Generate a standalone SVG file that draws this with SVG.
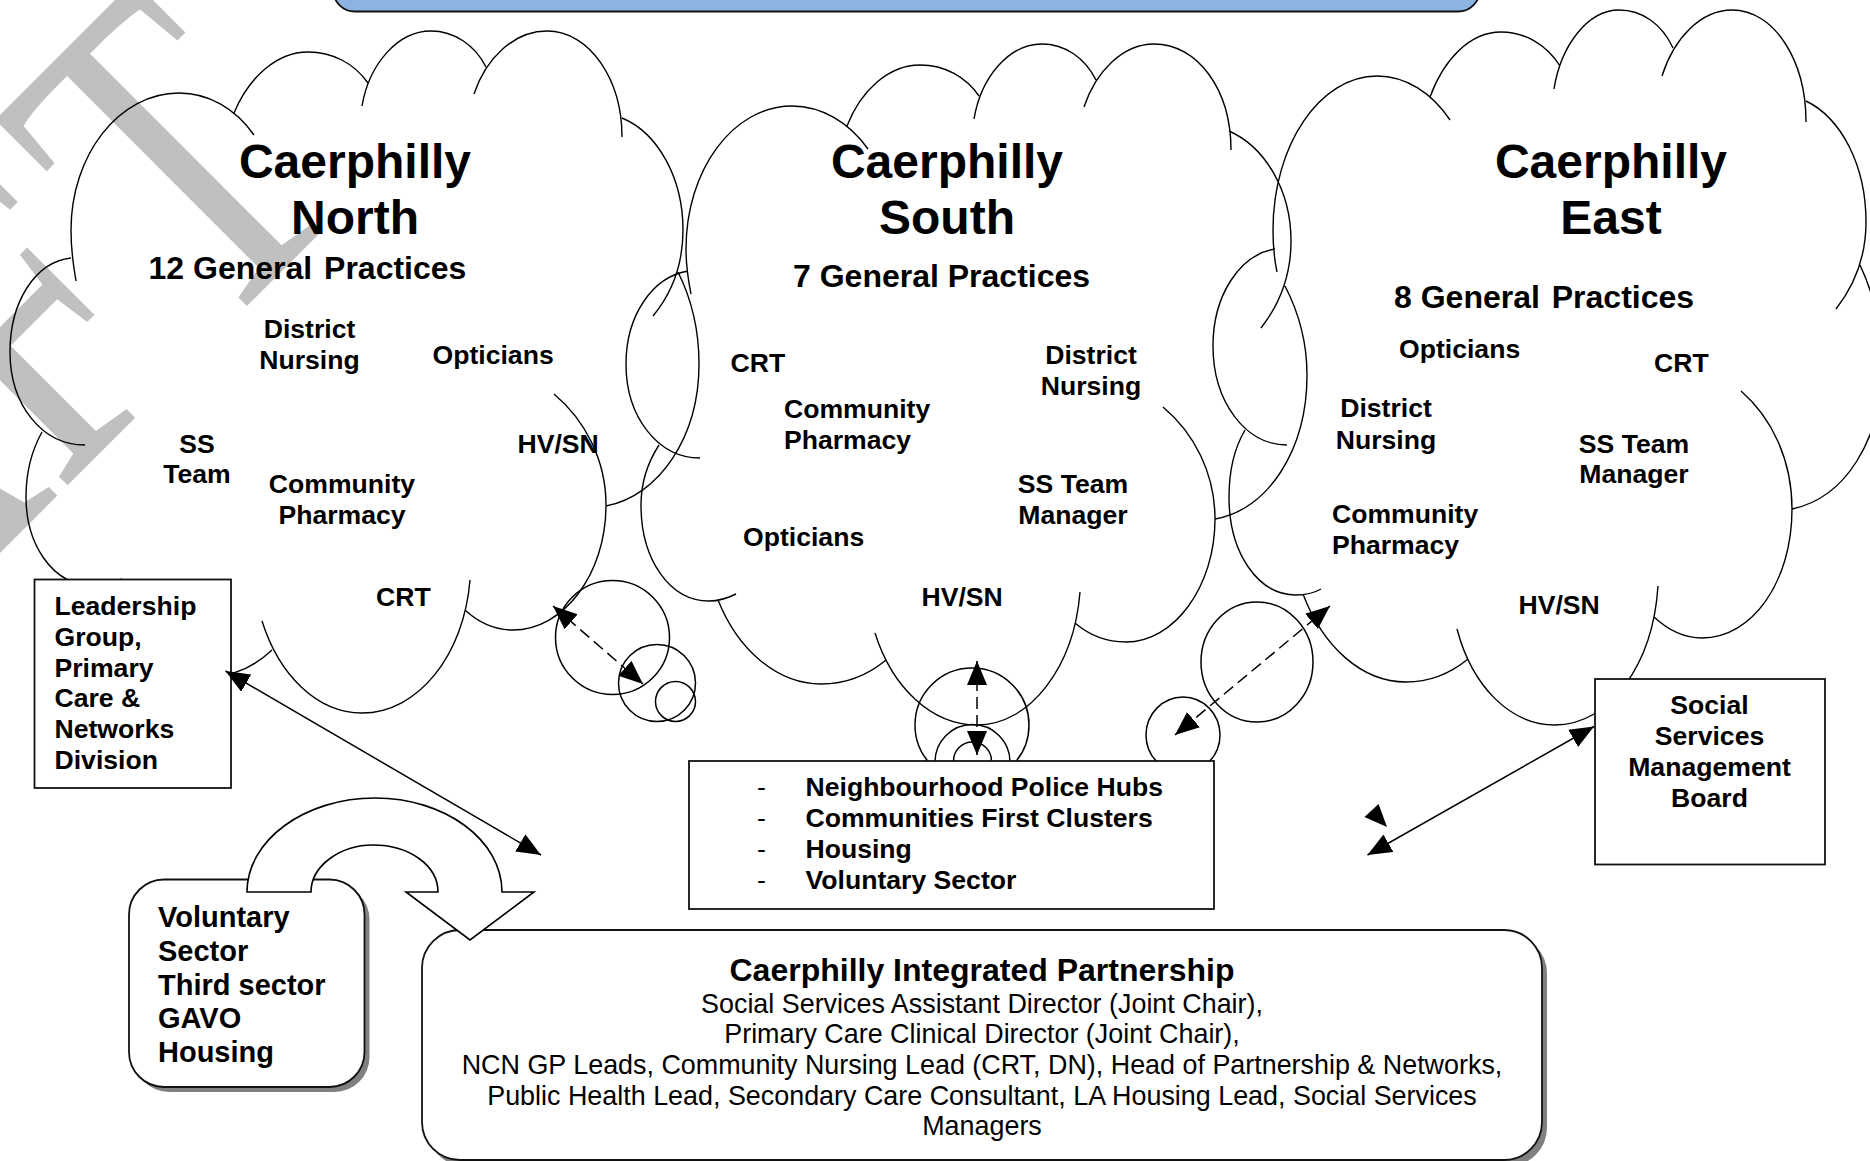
<svg xmlns="http://www.w3.org/2000/svg" width="1870" height="1161" viewBox="0 0 1870 1161">
<style>
text{font-family:"Liberation Sans",Arial,sans-serif;fill:#000}
.h{font-size:48px;font-weight:bold;text-anchor:middle}
.s{font-size:32px;font-weight:bold}
.l{font-size:26.6px;font-weight:bold}
.n{font-weight:normal}
.m{text-anchor:middle}
.v{font-size:29px;font-weight:bold}
.r{font-size:26.9px;text-anchor:middle}
.arc{fill:none;stroke:#000;stroke-width:1.4}
.c{fill:none;stroke:#000;stroke-width:1.5}
.box{fill:#fff;stroke:#111;stroke-width:1.8}
.shadow{fill:#808080;stroke:none}
.ln{stroke:#000;stroke-width:1.5;fill:none;marker-start:url(#ah);marker-end:url(#ah)}
.ds{stroke-dasharray:12 6}
</style>
<defs>
<marker id="ah" markerUnits="userSpaceOnUse" markerWidth="26" markerHeight="22" refX="24" refY="10" orient="auto-start-reverse" viewBox="0 0 26 22"><path d="M0 0L24 10L0 20Z" fill="#000"/></marker>
</defs>
<rect width="1870" height="1161" fill="#fff"/>
<text id="watermark" transform="translate(357,196) rotate(-45) scale(.72,1)" font-size="473" text-anchor="end" style="font-family:'Liberation Serif',serif;fill:#c0c0c0">DRAF<tspan dx="33">T</tspan></text>
<g id="header"><rect x="333" y="-40" width="1147" height="51.5" rx="22" fill="#8db3e2" stroke="#111" stroke-width="1.8"/></g>

<g id="cloud-north">
<path class="arc" d="M76 281C73 264 71 247 71 230C71 155 119 93 179 93C208 93 235 108 254 135M234 113C249 77 277 52 308 52C332 52 354 63 368 83M362 106C369 65 397 31 431 31C454 31 475 45 486 67M474 94C486 58 514 31 547 31C590 31 622 80 622 137M622 118C658 133 683 178 683 230C683 265 672 293 653 316M678 272C692 300 699 332 699 364C699 437 659 496 606 506M554 394C585 420 606 460 606 505C606 575 563 630 513 630C495 630 478 622 465 610M470 580C464 655 418 713 362 713C317 713 279 675 262 621M42 432C32 450 26 473 26 497C26 541 50 586 95 586C105 586 114 583 122 579M104 585C125 640 170 676 212 676C235 676 255 666 272 650M71 258C35 262 10 302 10 352C10 405 42 445 85 445"/>
<text class="h" x="355" y="178">Caerphilly</text><text class="h" x="355" y="234">North</text>
<text class="s" x="148.5" y="279">12 General <tspan dx="3">Practices</tspan></text>
<text class="l m" x="309.5" y="338">District</text><text class="l m" x="309.5" y="369">Nursing</text>
<text class="l" x="432.5" y="364">Opticians</text>
<text class="l m" x="197" y="453">SS</text><text class="l m" x="197" y="483">Team</text>
<text class="l m" x="342" y="492.5">Community</text><text class="l m" x="342" y="523.5">Pharmacy</text>
<text class="l" x="517.5" y="452.5">HV/SN</text>
<text class="l" x="376" y="606">CRT</text>
</g>

<g id="cloud-south">
<path class="arc" d="M691 294C688 279 686 264 686 249C686 170 733 106 792 106C821 106 849 122 868 149M847 126C861 90 889 65 920 65C945 65 966 77 979 96M974 119C981 77 1009 44 1042 44C1065 44 1085 58 1096 80M1084 107C1096 71 1123 44 1154 44C1198 44 1231 90 1231 150M1229 131C1265 147 1291 190 1291 241C1291 275 1279 305 1261 328M1285 286C1299 313 1307 344 1307 375C1307 450 1268 510 1215 519M1163 407C1194 433 1215 473 1215 519C1215 587 1174 642 1126 642C1107 642 1089 635 1075 623M1080 592C1074 667 1030 725 977 725C931 725 892 687 875 633M659 445C648 462 641 483 641 505C641 560 670 601 709 601C719 601 728 598 736 594M718 600C738 650 777 684 821 684C846 684 868 675 886 660M688 271C652 277 626 316 626 364C626 417 658 458 700 458"/>
<text class="h" x="947" y="178">Caerphilly</text><text class="h" x="947" y="234">South</text>
<text class="s" x="793" y="286.5">7 General Practices</text>
<text class="l" x="730.5" y="372">CRT</text>
<text class="l m" x="1091" y="363.5">District</text><text class="l m" x="1091" y="394.5">Nursing</text>
<text class="l" x="784" y="417.5">Community</text><text class="l" x="784" y="448.5">Pharmacy</text>
<text class="l m" x="1073" y="493">SS Team</text><text class="l m" x="1073" y="523.5">Manager</text>
<text class="l" x="743" y="546">Opticians</text>
<text class="l" x="921.5" y="606">HV/SN</text>
</g>

<g id="cloud-east">
<path class="arc" d="M1277 272C1274 258 1273 244 1273 230C1273 145 1320 76 1377 76C1406 76 1432 93 1450 120M1430 97C1444 59 1470 32 1501 32C1525 32 1547 45 1560 66M1554 89C1561 45 1588 10 1619 10C1642 10 1662 24 1673 48M1662 76C1674 38 1701 10 1732 10C1774 10 1806 60 1806 122M1806 101C1841 118 1866 165 1866 222C1866 256 1854 286 1836 309M1860 265C1874 295 1882 330 1882 365C1882 440 1845 498 1792 509M1741 391C1772 418 1792 460 1792 509C1792 582 1752 638 1702 638C1684 638 1668 630 1654 617M1658 586C1653 664 1610 725 1555 725C1510 725 1472 686 1457 629M1245 430C1235 447 1229 471 1229 497C1229 553 1258 595 1296 595C1305 595 1314 593 1321 589M1303 594C1323 647 1362 682 1406 682C1429 682 1451 673 1468 659M1275 249C1239 255 1213 296 1213 346C1213 401 1245 445 1287 445"/>
<text class="h" x="1611" y="178">Caerphilly</text><text class="h" x="1611" y="234">East</text>
<text class="s" x="1394" y="308">8 General <tspan dx="3">Practices</tspan></text>
<text class="l" x="1399" y="358">Opticians</text>
<text class="l" x="1654" y="372">CRT</text>
<text class="l m" x="1386" y="417">District</text><text class="l m" x="1386" y="448.5">Nursing</text>
<text class="l m" x="1634" y="453">SS Team</text><text class="l m" x="1634" y="483">Manager</text>
<text class="l" x="1332" y="522.5">Community</text><text class="l" x="1332" y="553.5">Pharmacy</text>
<text class="l" x="1518.5" y="614">HV/SN</text>
</g>

<g id="thought-bubbles">
<circle class="c" cx="612.5" cy="637.5" r="57"/><circle class="c" cx="657" cy="683" r="38.5"/><circle class="c" cx="675.5" cy="701.5" r="20"/>
<circle class="c" cx="972" cy="725" r="57"/><circle class="c" cx="972.5" cy="762" r="37.5"/><circle class="c" cx="972.5" cy="761" r="19"/>
<ellipse class="c" cx="1257" cy="662" rx="56" ry="60"/><ellipse class="c" cx="1183" cy="735" rx="37" ry="38"/>
</g>

<g id="leadership-box">
<rect class="box" x="34.5" y="579.5" width="196.5" height="208.5"/>
<text class="l" x="54.5" y="615">Leadership</text><text class="l" x="54.5" y="645.5">Group,</text><text class="l" x="54.5" y="676.5">Primary</text><text class="l" x="54.5" y="707">Care &amp;</text><text class="l" x="54.5" y="738">Networks</text><text class="l" x="54.5" y="768.5">Division</text>
</g>

<g id="social-services-box">
<rect class="box" x="1595" y="679" width="230" height="185.5"/>
<text class="l m" x="1709.5" y="714">Social</text><text class="l m" x="1709.5" y="745">Services</text><text class="l m" x="1709.5" y="775.5">Management</text><text class="l m" x="1709.5" y="806.5">Board</text>
</g>

<g id="community-box">
<rect class="box" x="689" y="761" width="525" height="148"/>
<text class="l n" x="757" y="796">-</text><text class="l n" x="757" y="827">-</text><text class="l n" x="757" y="857.5">-</text><text class="l n" x="757" y="889">-</text>
<text class="l" x="805.5" y="796">Neighbourhood Police Hubs</text><text class="l" x="805.5" y="827">Communities First Clusters</text><text class="l" x="805.5" y="857.5">Housing</text><text class="l" x="805.5" y="889">Voluntary Sector</text>
</g>

<g id="voluntary-box">
<rect class="shadow" x="134" y="884.5" width="235.5" height="207.5" rx="35"/>
<rect class="box" x="129" y="879.5" width="235.5" height="207.5" rx="35"/>
<text class="v" x="158" y="927">Voluntary</text><text class="v" x="158" y="961">Sector</text><text class="v" x="158" y="994.5">Third sector</text><text class="v" x="158" y="1028">GAVO</text><text class="v" x="158" y="1061.5">Housing</text>
</g>

<g id="partnership-box">
<rect class="shadow" x="427" y="935" width="1120" height="231" rx="38"/>
<rect class="box" x="422" y="930" width="1120" height="230" rx="38"/>
<text class="s m" x="982" y="981">Caerphilly Integrated Partnership</text>
<text class="r" x="982" y="1012.5">Social Services Assistant Director (Joint Chair),</text>
<text class="r" x="982" y="1043">Primary Care Clinical Director (Joint Chair),</text>
<text class="r" x="982" y="1073.5">NCN GP Leads, Community Nursing Lead (CRT, DN), Head of Partnership &amp; Networks,</text>
<text class="r" x="982" y="1104.5">Public Health Lead, Secondary Care Consultant, LA Housing Lead, Social Services</text>
<text class="r" x="982" y="1135">Managers</text>
</g>

<g id="connectors">
<line class="ln" x1="225.5" y1="671" x2="541" y2="855"/>
<line class="ln" x1="1594" y1="726.5" x2="1367.5" y2="855"/>
<line class="ln ds" x1="553" y1="606" x2="643" y2="684"/>
<line class="ln ds" x1="977" y1="661" x2="977" y2="755"/>
<line class="ln ds" x1="1330" y1="606" x2="1175" y2="735"/>
<polygon points="1364.5,817 1378.6,804 1387,827" fill="#000"/>
<path d="M247 892C247 840 305 798 375 798C445 798 502 840 502 892H534L470 940L406 892H438C438 866 410 845 373 845C340 845 311 866 311 892Z" fill="#fff" stroke="#000" stroke-width="1.6"/>
</g>
</svg>
